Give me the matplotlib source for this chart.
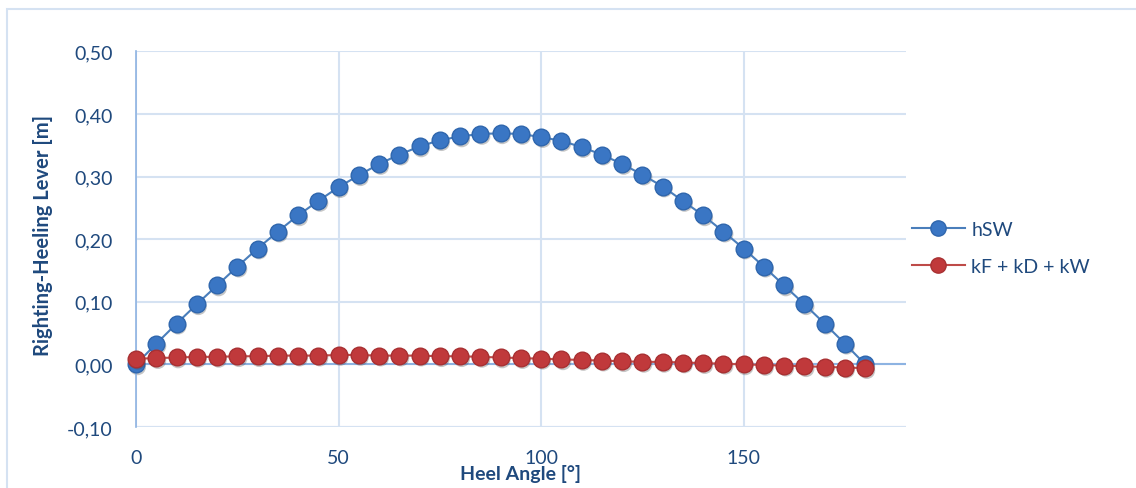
import matplotlib
matplotlib.use("Agg")
import matplotlib.pyplot as plt
import matplotlib.patheffects as pe
from matplotlib.patches import Rectangle

# ---- data ----
heel_angle = [0, 5, 10, 15, 20, 25, 30, 35, 40, 45, 50, 55, 60, 65, 70, 75, 80, 85, 90,
              95, 100, 105, 110, 115, 120, 125, 130, 135, 140, 145, 150, 155, 160, 165,
              170, 175, 180]
hSW = [0.000, 0.033, 0.065, 0.096, 0.126, 0.156, 0.185, 0.212, 0.238, 0.261, 0.283,
       0.302, 0.320, 0.335, 0.348, 0.358, 0.364, 0.368, 0.369, 0.368, 0.363, 0.357,
       0.347, 0.335, 0.320, 0.303, 0.284, 0.261, 0.238, 0.212, 0.185, 0.156, 0.126,
       0.096, 0.065, 0.033, 0.000]
k_sum = [0.009, 0.010, 0.011, 0.012, 0.012, 0.013, 0.013, 0.014, 0.014, 0.014, 0.015,
         0.015, 0.014, 0.014, 0.014, 0.013, 0.013, 0.012, 0.011, 0.010, 0.009, 0.008,
         0.007, 0.006, 0.005, 0.004, 0.004, 0.003, 0.002, 0.001, 0.000, -0.001, -0.002,
         -0.003, -0.004, -0.005, -0.006]
series_labels = ["hSW", "kF + kD + kW"]
x_ticks = [0, 50, 100, 150]
y_ticks = [-0.10, 0.0, 0.10, 0.20, 0.30, 0.40, 0.50]
x_label = "Heel Angle [°]"
y_label = "Righting-Heeling Lever [m]"

# ---- style ----
TXT = "#1f497d"
GRID = "#d5e2f2"
AXLINE = "#8db3e2"
FONT = ["Lato", "DejaVu Sans"]
plt.rcParams["font.family"] = FONT

W, H = 1136, 489
fig = plt.figure(figsize=(W / 100, H / 100), dpi=100)
fig.patch.set_facecolor("white")

# outer chart border
fig.add_artist(Rectangle((7 / W, -0.1), 1.2, 1 - 10 / H + 0.1, transform=fig.transFigure,
                         fill=False, edgecolor=GRID, linewidth=1.5))

left, right, top, bottom = 136 / W, 905.7 / W, 1 - 52.3 / H, 1 - 428 / H
ax = fig.add_axes([left, bottom, right - left, top - bottom])
ax.set_xlim(0, 190)
ax.set_ylim(-0.10, 0.50)
ax.set_xticks(x_ticks)
ax.set_yticks(y_ticks)
ax.set_yticklabels([f"{v:.2f}".replace(".", ",") for v in y_ticks])
ax.set_xticklabels([str(v) for v in x_ticks])
ax.tick_params(axis="both", length=0, labelsize=14, labelcolor=TXT)
ax.tick_params(axis="y", pad=17)
ax.tick_params(axis="x", pad=16)

for s in ["top", "right", "bottom"]:
    ax.spines[s].set_visible(False)
ax.spines["left"].set_color(AXLINE)
ax.spines["left"].set_linewidth(1.2)
ax.grid(True, color=GRID, linewidth=1.5)
ax.set_axisbelow(True)
ax.axhline(0, color=AXLINE, linewidth=1.5, zorder=1.5)
ax.axhline(-0.10, color=GRID, linewidth=1.5, zorder=1)

shadow = [pe.SimplePatchShadow(offset=(1.2, -1.8), alpha=0.3, shadow_rgbFace="#444444")]

series = [
    (hSW, series_labels[0], "#4a7ebb", "#3a76c4", "#2f66ad", 3),
    (k_sum, series_labels[1], "#be4b48", "#c0393b", "#a83032", 5),
]
for yvals, lab, lc, fc, ec, z in series:
    # marker shadows (only the shadow is drawn)
    sh, = ax.plot(heel_angle, yvals, linestyle="none", marker="o", markersize=12,
                  markerfacecolor=fc, markeredgewidth=0, zorder=z - 0.5,
                  path_effects=shadow)
    sh.set_clip_on(False)
    ln, = ax.plot(heel_angle, yvals, color=lc, linewidth=1.5, marker="o",
                  markersize=12, markerfacecolor=fc, markeredgecolor=ec,
                  markeredgewidth=1, label=lab, zorder=z)
    ln.set_clip_on(False)

leg = ax.legend(loc="center left", bbox_to_anchor=(912 / W, 1 - 249 / H),
                bbox_transform=fig.transFigure, frameon=False, fontsize=14,
                handlelength=2.7, handletextpad=0.35, labelspacing=1.05,
                borderpad=0, borderaxespad=0)
for t in leg.get_texts():
    t.set_color(TXT)
for h in leg.legend_handles:
    h.set_markersize(11)

fig.text(43 / W, 1 - 236 / H, y_label, rotation=90, ha="center", va="center",
         fontsize=14.5, fontweight="bold", color=TXT)
fig.text(520 / W, 1 - 474 / H, x_label, ha="center", va="center",
         fontsize=14, fontweight="bold", color=TXT)

fig.savefig("out.png", dpi=100, facecolor="white")
